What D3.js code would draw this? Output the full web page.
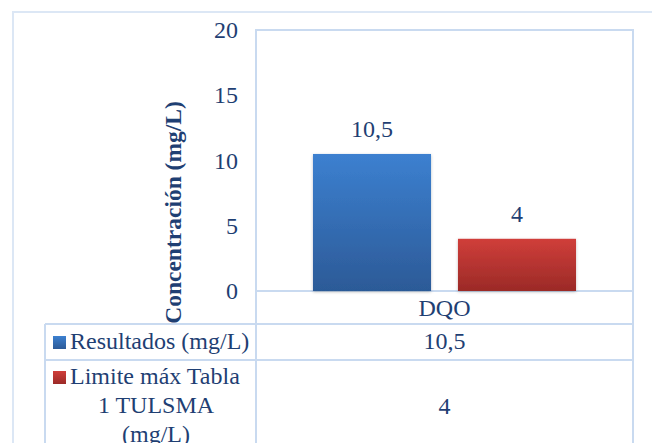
<!DOCTYPE html>
<html>
<head>
<meta charset="utf-8">
<script src="https://cdn.jsdelivr.net/npm/d3@7/dist/d3.min.js"></script>
<style>
  html, body { margin: 0; padding: 0; background: #fff; }
  svg { display: block; }
</style>
</head>
<body>
<svg id="chart" width="652" height="443"></svg>
<script>
// Chart data
const categories = ["DQO"];
const seriesNames = ["Resultados (mg/L)", "Limite máx Tabla 1 TULSMA (mg/L)"];
const seriesLabelLines = [["Resultados (mg/L)"], ["Limite máx Tabla", "1 TULSMA", "(mg/L)"]];
const seriesValues = [[10.5], [4]];
const valueLabels = [["10,5"], ["4"]];
const yTicks = [0, 5, 10, 15, 20];
const yTitle = "Concentración (mg/L)";

const W = 652, H = 443;
const FONT = '"Liberation Serif", "Times New Roman", serif';
const FS = 24;
const gridColor = "#c9daf0";
const textColor = "#1f3f73";

const plot = { left: 256, right: 633, top: 30, bottom: 291 };
const table = { left: 45, rows: [291, 324, 360] };

const svg = d3.select("#chart");

function label(sel) {
  return sel.style("font-family", FONT).attr("font-size", FS).attr("fill", textColor);
}

// bar gradients and soft shadow
const defs = svg.append("defs");
const grads = [["#3c80d0", "#2c5a97"], ["#d03e3a", "#9b2a27"]];
grads.forEach((g, i) => {
  const lg = defs.append("linearGradient").attr("id", "grad" + i)
    .attr("x1", 0).attr("y1", 0).attr("x2", 0).attr("y2", 1);
  lg.append("stop").attr("offset", "0%").attr("stop-color", g[0]);
  lg.append("stop").attr("offset", "100%").attr("stop-color", g[1]);
});
const f = defs.append("filter").attr("id", "shadow")
  .attr("x", "-20%").attr("y", "-20%").attr("width", "140%").attr("height", "140%");
f.append("feDropShadow").attr("dx", 0).attr("dy", 1).attr("stdDeviation", 1.5)
  .attr("flood-color", "#000").attr("flood-opacity", 0.25);

// outer chart frame
svg.append("rect").attr("x", 13).attr("y", 12).attr("width", 700).attr("height", 500)
  .attr("fill", "none").attr("stroke", "#dce7f5").attr("stroke-width", 2);

// scales
const y = d3.scaleLinear().domain([0, 20]).range([plot.bottom, plot.top]);
const x0 = d3.scaleBand().domain(categories).range([plot.left, plot.right])
  .paddingInner(0).paddingOuter(0.2167);
const x1 = d3.scaleBand().domain(d3.range(seriesNames.length))
  .range([0, x0.bandwidth()]).paddingInner(0.186);

// plot area frame
svg.append("rect").attr("x", plot.left).attr("y", plot.top)
  .attr("width", plot.right - plot.left).attr("height", plot.bottom - plot.top)
  .attr("fill", "none").attr("stroke", gridColor).attr("stroke-width", 2);

// y axis labels
const yAxis = d3.axisLeft(y).tickValues(yTicks).tickSize(0).tickPadding(0).tickFormat(d3.format("d"));
const ga = svg.append("g").attr("transform", "translate(238,0)").call(yAxis);
ga.select(".domain").remove();
ga.attr("font-family", null).attr("font-size", null);
label(ga.selectAll("text"));

// y axis title
label(svg.append("text"))
  .attr("transform", `translate(181,${(100 + 325) / 2}) rotate(-90)`)
  .attr("text-anchor", "middle")
  .attr("font-size", 23.5).attr("font-weight", "bold")
  .text(yTitle);

// bars with value labels
categories.forEach((c, ci) => {
  seriesValues.forEach((vals, si) => {
    const bx = x0(c) + x1(si);
    svg.append("rect")
      .attr("x", bx).attr("y", y(vals[ci]))
      .attr("width", x1.bandwidth()).attr("height", y(0) - y(vals[ci]))
      .attr("fill", `url(#grad${si})`).attr("filter", "url(#shadow)");
    label(svg.append("text"))
      .attr("x", bx + x1.bandwidth() / 2).attr("y", y(vals[ci]) - 17)
      .attr("text-anchor", "middle")
      .text(valueLabels[si][ci]);
  });
});

// data table grid
const tl = svg.append("g").attr("stroke", gridColor).attr("stroke-width", 2);
tl.append("line").attr("x1", table.left).attr("x2", plot.right).attr("y1", table.rows[1]).attr("y2", table.rows[1]);
tl.append("line").attr("x1", table.left).attr("x2", plot.right).attr("y1", table.rows[2]).attr("y2", table.rows[2]);
tl.append("line").attr("x1", table.left).attr("x2", table.left).attr("y1", table.rows[1]).attr("y2", H + 5);
tl.append("line").attr("x1", plot.left).attr("x2", plot.left).attr("y1", plot.bottom).attr("y2", H + 5);
tl.append("line").attr("x1", plot.right).attr("x2", plot.right).attr("y1", plot.bottom).attr("y2", H + 5);

// category header row
categories.forEach(c => {
  label(svg.append("text")).attr("x", x0(c) + x0.bandwidth() / 2).attr("y", 316)
    .attr("text-anchor", "middle").text(c);
});

// table rows: legend key, series name, values
const firstBaselines = [349, 384];
const valueBaselines = [349, 414];
const lineH = 29;
seriesNames.forEach((s, si) => {
  const lines = seriesLabelLines[si];
  const g = svg.append("g");
  lines.forEach((ln, li) => {
    const by = firstBaselines[si] + li * lineH;
    if (li === 0) {
      g.append("rect").attr("x", 53).attr("y", by - 13).attr("width", 13).attr("height", 13)
        .attr("fill", `url(#grad${si})`);
      label(g.append("text")).attr("x", 70).attr("y", by).text(ln);
    } else {
      label(g.append("text")).attr("x", 156).attr("y", by)
        .attr("text-anchor", "middle").text(ln);
    }
  });
  categories.forEach((c, ci) => {
    label(svg.append("text")).attr("x", x0(c) + x0.bandwidth() / 2).attr("y", valueBaselines[si])
      .attr("text-anchor", "middle").text(valueLabels[si][ci]);
  });
});
</script>
</body>
</html>
